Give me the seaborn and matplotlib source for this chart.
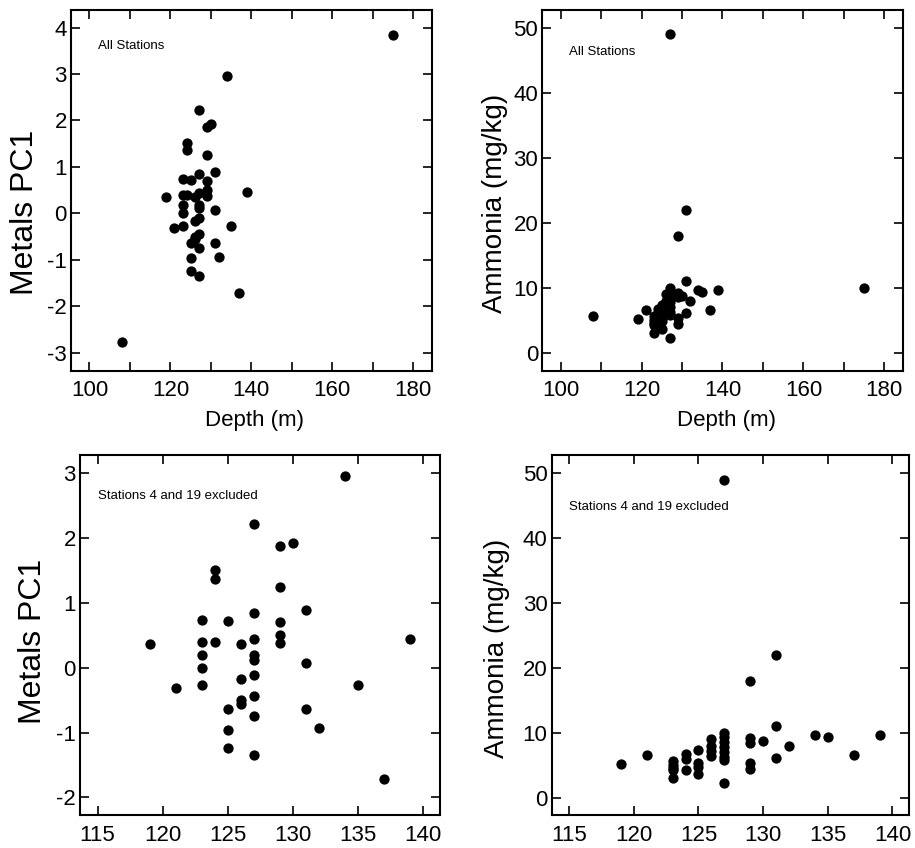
import matplotlib
matplotlib.use("Agg")
import matplotlib.pyplot as plt
import seaborn as sns
import pandas as pd
from matplotlib.ticker import MultipleLocator

# ---- data (stations 4 and 19 excluded) ----
depth = [119, 121, 123, 123, 123, 123, 123, 124, 124, 124, 125, 125, 125, 125,
         126, 126, 126, 126, 127, 127, 127, 127, 127, 127, 127, 127, 127,
         129, 129, 129, 129, 129, 130, 131, 131, 131, 132, 134, 135, 137, 139]
metals_pc1 = [0.36, -0.31, 0.73, 0.40, 0.19, 0.00, -0.27, 1.51, 1.37, 0.40,
              0.72, -0.63, -0.96, -1.24, 0.36, -0.17, -0.50, -0.56,
              2.22, 0.85, 0.44, 0.19, 0.12, -0.11, -0.44, -0.74, -1.35,
              1.87, 1.25, 0.70, 0.50, 0.38, 1.92, 0.89, 0.07, -0.63,
              -0.93, 2.95, -0.27, -1.72, 0.45]
ammonia = [5.2, 6.5, 5.6, 5.1, 4.6, 4.2, 3.0, 6.7, 5.9, 4.2,
           7.4, 5.4, 4.8, 3.6, 9.1, 7.9, 7.2, 6.4,
           49.0, 10.0, 9.3, 8.6, 7.8, 7.0, 6.3, 5.8, 2.3,
           18.0, 9.2, 8.5, 5.4, 4.4, 8.7, 22.0, 11.0, 6.1,
           8.0, 9.7, 9.4, 6.5, 9.6]

# ---- stations 4 and 19 ----
depth_4_19 = [108, 175]
metals_pc1_4_19 = [-2.78, 3.85]
ammonia_4_19 = [5.7, 10.0]

excl = pd.DataFrame({"depth": depth, "pc1": metals_pc1, "nh3": ammonia})
extra = pd.DataFrame({"depth": depth_4_19, "pc1": metals_pc1_4_19, "nh3": ammonia_4_19})
allst = pd.concat([excl, extra], ignore_index=True)

sns.set_theme(style="ticks")
plt.rcParams["font.family"] = ["Liberation Sans", "DejaVu Sans"]
plt.rcParams["axes.unicode_minus"] = False
plt.rcParams["text.color"] = "black"
plt.rcParams["axes.labelcolor"] = "black"
plt.rcParams["xtick.color"] = "black"
plt.rcParams["ytick.color"] = "black"

W, H = 915, 848
fig = plt.figure(figsize=(W / 100, H / 100), dpi=100)

def px_axes(left, top, right, bottom):
    return fig.add_axes([left / W, 1 - bottom / H, (right - left) / W, (bottom - top) / H])

ax_tl = px_axes(71, 10, 432.3, 370.7)
ax_tr = px_axes(542.3, 10, 903.3, 370.7)
ax_bl = px_axes(80, 455, 440, 815)
ax_br = px_axes(551.7, 455, 909.3, 815)

TICK_FS = 16
XLABEL_FS = 16
PC1_FS = 23
NH3_FS = 20

def style(ax, xlim, ylim, xmaj, xmin, ymaj):
    ax.set_xlim(*xlim)
    ax.set_ylim(*ylim)
    ax.xaxis.set_major_locator(MultipleLocator(xmaj))
    if xmin:
        ax.xaxis.set_minor_locator(MultipleLocator(xmin))
    ax.yaxis.set_major_locator(MultipleLocator(ymaj))
    for s in ax.spines.values():
        s.set_visible(True)
        s.set_linewidth(1.5)
        s.set_color("black")
    ax.tick_params(which="both", direction="in", length=6.5, width=1.2,
                   top=True, right=True, color="black", labelsize=TICK_FS,
                   labelcolor="black")
    ax.tick_params(axis="x", which="major", pad=7)
    ax.tick_params(axis="y", which="major", pad=3)
    ax.grid(False)
    ax.set_facecolor("white")

def scatter(ax, df, y):
    sns.scatterplot(data=df, x="depth", y=y, ax=ax, color="black", s=55,
                    linewidth=0, legend=False)

scatter(ax_tl, allst, "pc1")
scatter(ax_tr, allst, "nh3")
scatter(ax_bl, excl, "pc1")
scatter(ax_br, excl, "nh3")

style(ax_tl, (95.45, 184.7), (-3.39, 4.38), 20, 10, 1)
style(ax_tr, (95.45, 184.7), (-2.77, 52.7), 20, 10, 10)
style(ax_bl, (113.65, 141.3), (-2.27, 3.28), 5, None, 1)
style(ax_br, (113.65, 141.3), (-2.67, 52.8), 5, None, 10)

ax_tl.set_xlabel("Depth (m)", fontsize=XLABEL_FS, va="center")
ax_tr.set_xlabel("Depth (m)", fontsize=XLABEL_FS, va="center")
ax_tl.xaxis.set_label_coords(0.509, -0.139)
ax_tr.xaxis.set_label_coords(0.51, -0.139)
ax_bl.set_xlabel("")
ax_br.set_xlabel("")

ax_tl.set_ylabel("Metals PC1", fontsize=PC1_FS, va="center")
ax_tr.set_ylabel("Ammonia (mg/kg)", fontsize=NH3_FS, va="center")
ax_bl.set_ylabel("Metals PC1", fontsize=PC1_FS, va="center")
ax_br.set_ylabel("Ammonia (mg/kg)", fontsize=NH3_FS, va="center")
ax_tl.yaxis.set_label_coords(-0.127, 0.44)
ax_tr.yaxis.set_label_coords(-0.131, 0.465)
ax_bl.yaxis.set_label_coords(-0.131, 0.481)
ax_br.yaxis.set_label_coords(-0.153, 0.462)

note_fs = 9.5
ax_tl.text(0.074, 0.901, "All Stations", transform=ax_tl.transAxes, fontsize=note_fs, va="center", ha="left")
ax_tr.text(0.075, 0.884, "All Stations", transform=ax_tr.transAxes, fontsize=note_fs, va="center", ha="left")
ax_bl.text(0.049, 0.886, "Stations 4 and 19 excluded", transform=ax_bl.transAxes, fontsize=note_fs, va="center", ha="left")
ax_br.text(0.049, 0.855, "Stations 4 and 19 excluded", transform=ax_br.transAxes, fontsize=note_fs, va="center", ha="left")

fig.savefig("out.png", dpi=100, facecolor="white")
